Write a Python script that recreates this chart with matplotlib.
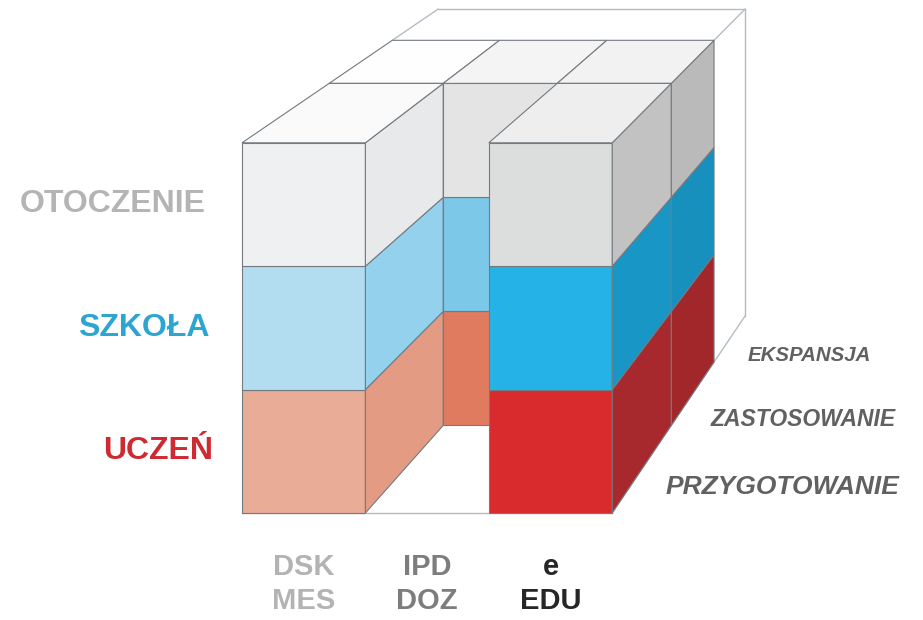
import matplotlib
matplotlib.use("Agg")
import matplotlib.pyplot as plt
from matplotlib.patches import Polygon
from matplotlib.colors import to_rgb

# --- data -----------------------------------------------------------
rows = ['UCZEŃ', 'SZKOŁA', 'OTOCZENIE']            # bottom -> top
columns = [('DSK', 'MES'), ('IPD', 'DOZ'), ('e', 'EDU')]
depths = ['PRZYGOTOWANIE', 'ZASTOSOWANIE', 'EKSPANSJA']  # front -> back
# filled[k][i] : depth layer k, column i (all three rows filled)
filled = [[1, 0, 1],
          [1, 1, 1],
          [0, 0, 0]]

# --- styles ---------------------------------------------------------
front_col = [['#e8ac97', '#b2dcf0', '#eef0f1'],
             ['#e07b5f', '#7cc8e8', '#e4e4e4'],
             ['#d92a2d', '#25b3e7', '#dcdddd']]
right_col = [['#e49b84', '#94d1ec', '#e8e9ea'],
             ['#d9705a', '#6dbde0', '#dadada'],
             ['#a8292d', '#1896c6', '#c2c2c2']]
top_col = ['#fafafa', '#f0f0f0', '#eeeeee']
row_txt_col = ['#cf2a31', '#2ca5d3', '#b4b4b4']
col_txt_col = ['#b3b3b3', '#7d7d7d', '#262626']
edge = '#737a80'
frame = '#b5bcc4'

# projection of cube coordinates to pixels (vanishing point up right)
VX, VY = 1390, -640
X0, Y0, CELL = 242, 513, 123.4


def proj(i, j, k):
    s = 0.724 + 0.276 * 0.725 ** k
    x = X0 + i * CELL
    y = Y0 - j * CELL
    return VX + (x - VX) * s, VY + (y - VY) * s


def shade(c, f):
    r, g, b = to_rgb(c)
    return (min(r * f, 1), min(g * f, 1), min(b * f, 1))


def face(ax, pts, color, z=2):
    ax.add_patch(Polygon([proj(*p) for p in pts], closed=True, facecolor=color,
                         edgecolor=edge, linewidth=0.8, zorder=z))


fig = plt.figure(figsize=(9.23, 6.2), dpi=100)
ax = fig.add_axes([0, 0, 1, 1])
ax.set_xlim(0, 923)
ax.set_ylim(620, 0)
ax.axis('off')

# outer wire frame
lines = [((0, 3, 3), (3, 3, 3)), ((0, 3, 2), (0, 3, 3)), ((3, 3, 2), (3, 3, 3)),
         ((3, 0, 3), (3, 3, 3)), ((3, 0, 2), (3, 0, 3)), ((0, 0, 0), (3, 0, 0)),
         ((3, 0, 0), (3, 0, 2))]
for a, b in lines:
    (x1, y1), (x2, y2) = proj(*a), proj(*b)
    ax.plot([x1, x2], [y1, y2], color=frame, lw=1.0, zorder=1)

# blocks, back to front
for k in reversed(range(3)):
    for i in range(3):
        if not filled[k][i]:
            continue
        for j in range(3):
            if k == 0 or not filled[k - 1][i]:
                face(ax, [(i, j, k), (i + 1, j, k), (i + 1, j + 1, k), (i, j + 1, k)],
                     front_col[i][j])
            if i == 2 or not filled[k][i + 1]:
                face(ax, [(i + 1, j, k), (i + 1, j, k + 1), (i + 1, j + 1, k + 1),
                          (i + 1, j + 1, k)], shade(right_col[i][j], 1 - 0.04 * k))
            if j == 2:
                face(ax, [(i, 3, k), (i + 1, 3, k), (i + 1, 3, k + 1), (i, 3, k + 1)],
                     shade(top_col[i], 1 + 0.015 * k))

font = 'Liberation Sans'
# row labels
row_right = [213, 210, 206]
for j, name in enumerate(rows):
    _, y = proj(0, j + 0.5, 0)
    ax.text(row_right[j], y, name, ha='right', va='center', fontsize=23,
            fontweight='bold', family=font, color=row_txt_col[j])

# column labels
for i, (l1, l2) in enumerate(columns):
    x, _ = proj(i + 0.5, 0, 0)
    ax.text(x, 567, l1, ha='center', va='center', fontsize=21, fontweight='bold',
            family=font, color=col_txt_col[i])
    ax.text(x, 601, l2, ha='center', va='center', fontsize=21, fontweight='bold',
            family=font, color=col_txt_col[i])

# depth labels
depth_size = [19, 16.5, 14.7]
depth_dx = [21, 16, 17]
depth_dy = [21, 28, 18]
for k, name in enumerate(depths):
    x, y = proj(3, 0, k + 0.5)
    ax.text(x + depth_dx[k], y + depth_dy[k], name, ha='left', va='center',
            fontsize=depth_size[k], fontweight='bold', fontstyle='italic',
            family=font, color='#616161')

fig.savefig('out.png', dpi=100)
